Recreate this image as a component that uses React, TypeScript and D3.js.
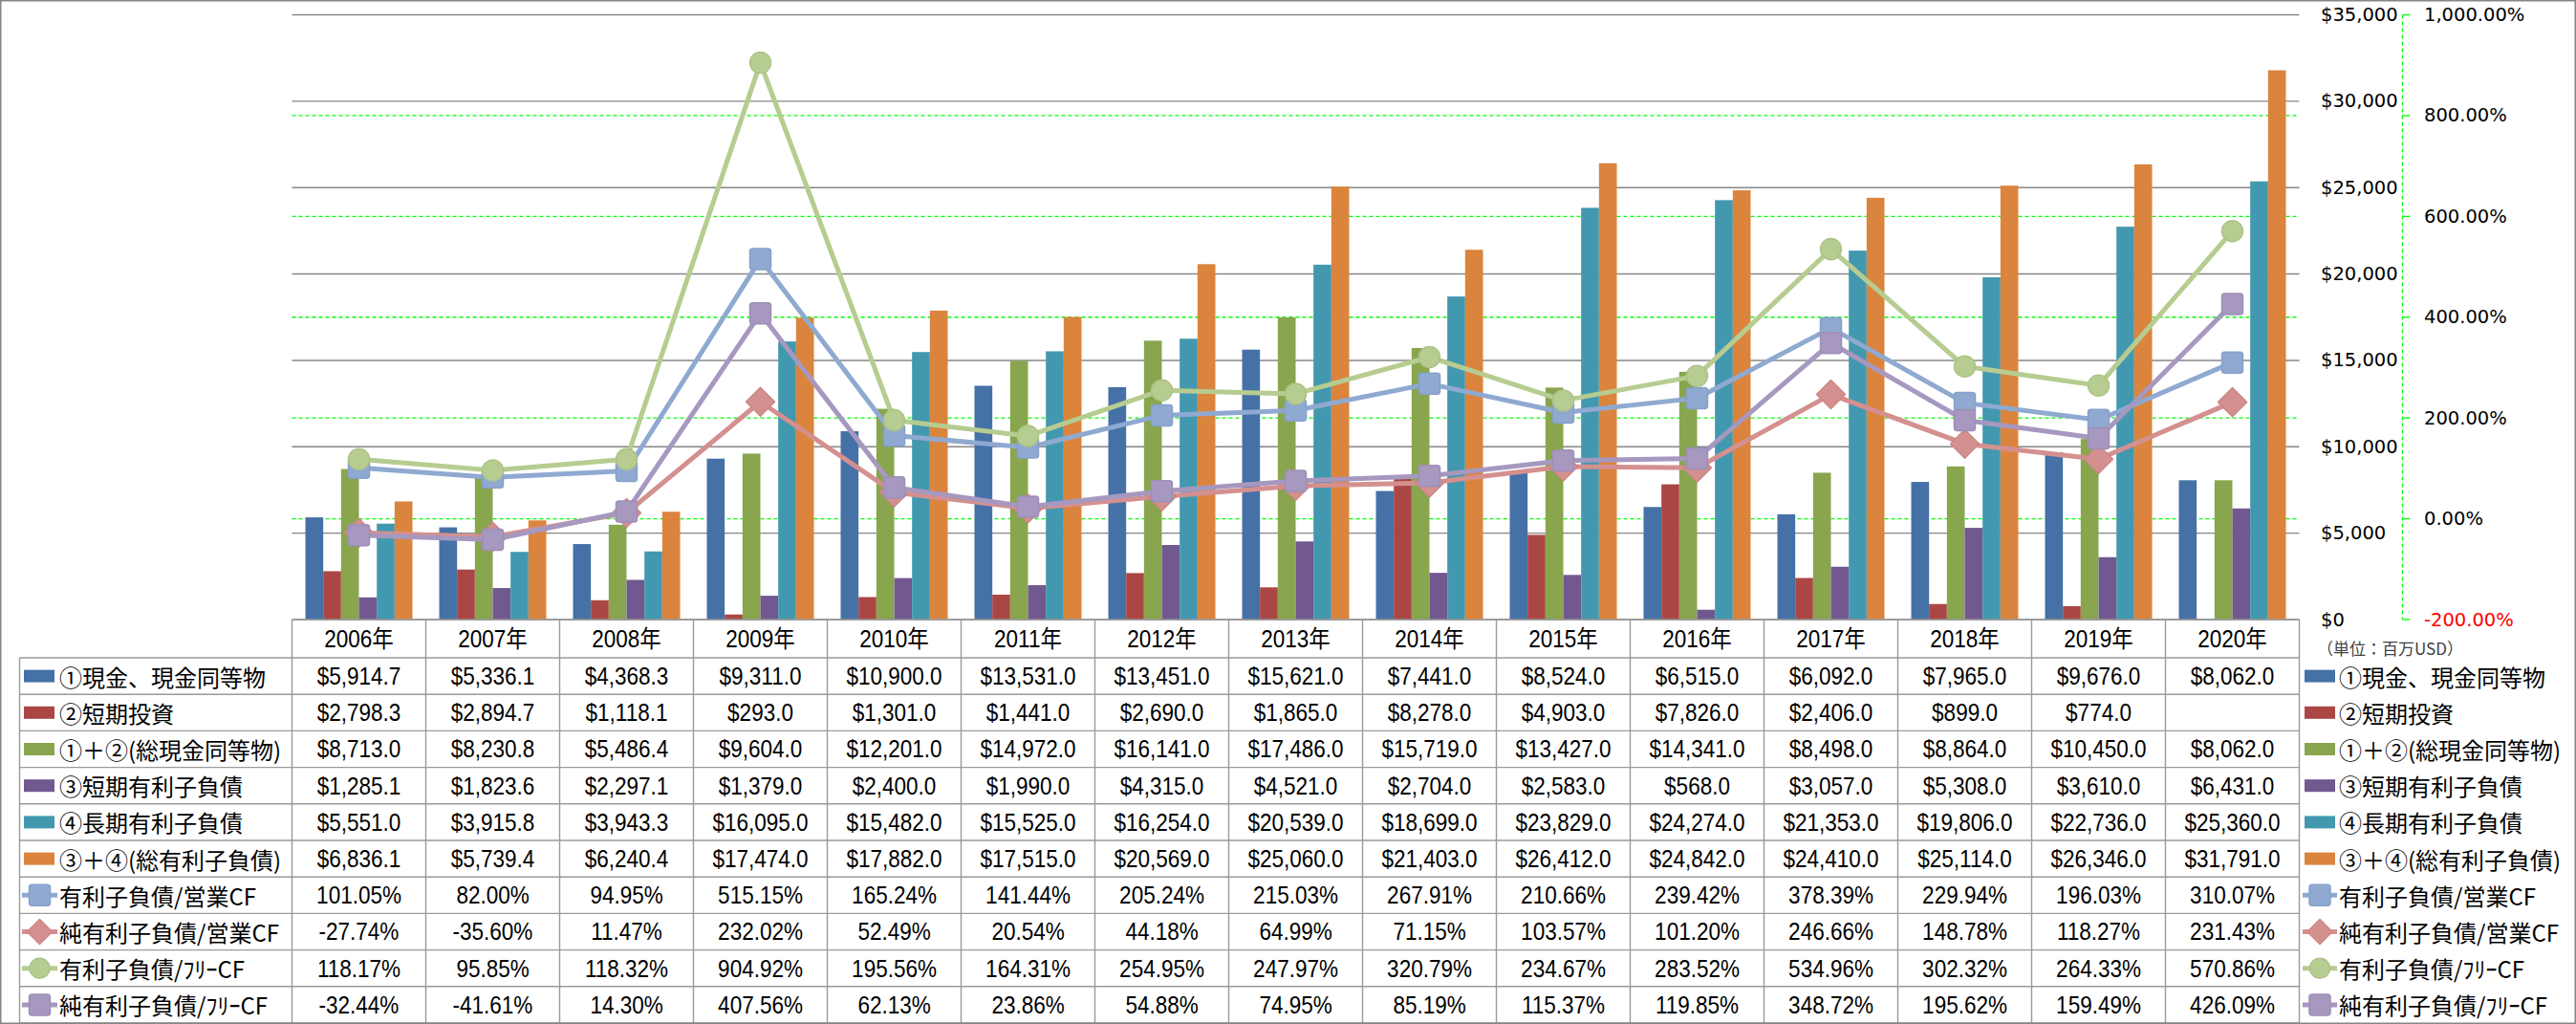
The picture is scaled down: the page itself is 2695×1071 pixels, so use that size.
import React from 'react';
import * as d3 from 'd3';

const years = ['2006年','2007年','2008年','2009年','2010年','2011年','2012年','2013年','2014年','2015年','2016年','2017年','2018年','2019年','2020年'];

const cash = [5914.7,5336.1,4368.3,9311.0,10900.0,13531.0,13451.0,15621.0,7441.0,8524.0,6515.0,6092.0,7965.0,9676.0,8062.0];
const shortInvest = [2798.3,2894.7,1118.1,293.0,1301.0,1441.0,2690.0,1865.0,8278.0,4903.0,7826.0,2406.0,899.0,774.0,null];
const totalCash = [8713.0,8230.8,5486.4,9604.0,12201.0,14972.0,16141.0,17486.0,15719.0,13427.0,14341.0,8498.0,8864.0,10450.0,8062.0];
const shortDebt = [1285.1,1823.6,2297.1,1379.0,2400.0,1990.0,4315.0,4521.0,2704.0,2583.0,568.0,3057.0,5308.0,3610.0,6431.0];
const longDebt = [5551.0,3915.8,3943.3,16095.0,15482.0,15525.0,16254.0,20539.0,18699.0,23829.0,24274.0,21353.0,19806.0,22736.0,25360.0];
const totalDebt = [6836.1,5739.4,6240.4,17474.0,17882.0,17515.0,20569.0,25060.0,21403.0,26412.0,24842.0,24410.0,25114.0,26346.0,31791.0];

const debtOpCF = [101.05,82.00,94.95,515.15,165.24,141.44,205.24,215.03,267.91,210.66,239.42,378.39,229.94,196.03,310.07];
const netDebtOpCF = [-27.74,-35.60,11.47,232.02,52.49,20.54,44.18,64.99,71.15,103.57,101.20,246.66,148.78,118.27,231.43];
const debtFreeCF = [118.17,95.85,118.32,904.92,195.56,164.31,254.95,247.97,320.79,234.67,283.52,534.96,302.32,264.33,570.86];
const netDebtFreeCF = [-32.44,-41.61,14.30,407.56,62.13,23.86,54.88,74.95,85.19,115.37,119.85,348.72,195.62,159.49,426.09];

const barNames = ['①現金、現金同等物','②短期投資','①＋②(総現金同等物)','③短期有利子負債','④長期有利子負債','③＋④(総有利子負債)'];
const lineNames = ['有利子負債/営業CF','純有利子負債/営業CF','有利子負債/ﾌﾘｰCF','純有利子負債/ﾌﾘｰCF'];
const unitLabel = '（単位：百万USD）';

const dollarTicks = [0,5000,10000,15000,20000,25000,30000,35000];
const pctTicks = [-200,0,200,400,600,800,1000];

const barColors = ['#4571A6','#AA4744','#89A54E','#71588F','#4298AF','#DB843D'];
const lineColors = ['#8FA9D1','#D4908F','#B6CC91','#A698BF'];
const lineStrokes = ['#86A1CB','#CC8786','#ADC488','#9D8FB8'];
const markerShapes = ['square','diamond','circle','square'];
const legendMarkerScale = [1, 0.87, 0.95, 1];

const barSeries = [cash, shortInvest, totalCash, shortDebt, longDebt, totalDebt];
const lineSeries = [debtOpCF, netDebtOpCF, debtFreeCF, netDebtFreeCF];

const W = 2695, H = 1071;
const plotLeft = 305.5, plotRight = 2405.5, plotTop = 15.5, plotBottom = 648;
const headerBottom = 688;
const rowH = 38.2;
const tableLeft = 20.5;

const locale = d3.formatLocale({ decimal: '.', thousands: ',', grouping: [3], currency: ['$', ''], minus: '-' });
const fmtMoney = locale.format('$,.1f');
const fmtAxisMoney = locale.format('$,');
const fmtPct = (v: number) => locale.format(',.2f')(v) + '%';

const tableFont = '"Liberation Sans", "Noto Sans CJK JP", sans-serif';
const labelFont = '"Noto Sans CJK JP", sans-serif';
const axisFont = '"DejaVu Sans", "Noto Sans CJK JP", sans-serif';

function Marker({ shape, x, y, fill, stroke, s = 1 }: any) {
  if (shape === 'circle') return <circle cx={x} cy={y} r={11 * s} fill={fill} stroke={stroke} strokeWidth={1.5} />;
  if (shape === 'diamond') {
    const r = 15 * s;
    return <path d={`M${x},${y - r}L${x + r},${y}L${x},${y + r}L${x - r},${y}Z`} fill={fill} stroke={stroke} strokeWidth={1.5} strokeLinejoin="round" />;
  }
  const h = 11 * s;
  return <rect x={x - h} y={y - h} width={2 * h} height={2 * h} rx={3} fill={fill} stroke={stroke} strokeWidth={1.5} />;
}

export default function App() {
  const x0 = d3.scaleBand<string>().domain(years).range([plotLeft, plotRight]).paddingInner(0).paddingOuter(0);
  const x1 = d3.scaleBand<number>().domain(d3.range(6)).range([0, x0.bandwidth()]).paddingInner(0).paddingOuter(0.75);
  const yL = d3.scaleLinear().domain([0, 35000]).range([plotBottom, plotTop]);
  const yR = d3.scaleLinear().domain([-200, 1000]).range([plotBottom, plotTop]);
  const cx = (i: number) => (x0(years[i]) as number) + x0.bandwidth() / 2;

  const rowCenter = (r: number) => headerBottom + rowH * r + rowH / 2;
  const rowLines = d3.range(11).map(r => headerBottom + rowH * r);

  const tableRows: string[][] = [
    ...barSeries.map(s => s.map(v => (v == null ? '' : fmtMoney(v as number)))),
    ...lineSeries.map(s => s.map(v => fmtPct(v))),
  ];

  const axisX = 2513.5;

  return (
    <svg width={W} height={H} style={{ position: 'absolute', left: 0, top: 0, background: '#fff' }} xmlns="http://www.w3.org/2000/svg">
      <rect x={0} y={0} width={W} height={H} fill="#fff" />
      {dollarTicks.map(t => (
        <line key={'g' + t} x1={plotLeft} x2={plotRight} y1={yL(t)} y2={yL(t)} stroke="#868686" strokeWidth={1.4} />
      ))}
      {pctTicks.filter(t => t > -200 && t < 1000).map(t => (
        <line key={'p' + t} x1={plotLeft} x2={plotRight} y1={yR(t)} y2={yR(t)} stroke="#00FF00" strokeWidth={1.3} strokeDasharray="4,3" />
      ))}
      {barSeries.map((s, k) => (
        <g key={'bs' + k} fill={barColors[k]}>
          {s.map((v, i) => v == null ? null : (
            <rect key={i} x={(x0(years[i]) as number) + (x1(k) as number)} width={x1.bandwidth()} y={yL(v as number)} height={yL(0) - yL(v as number)} />
          ))}
        </g>
      ))}
      {lineSeries.map((s, k) => {
        const line = d3.line<number>().x((_, i) => cx(i)).y(v => yR(v));
        return (
          <g key={'ls' + k}>
            <path d={line(s) as string} fill="none" stroke={lineColors[k]} strokeWidth={5} strokeLinejoin="round" />
            {s.map((v, i) => (
              <Marker key={i} shape={markerShapes[k]} x={cx(i)} y={yR(v)} fill={lineColors[k]} stroke={lineStrokes[k]} />
            ))}
          </g>
        );
      })}
      {dollarTicks.map(t => (
        <text key={'dl' + t} x={2428} y={yL(t)} dominantBaseline="central" fontFamily={axisFont} fontSize={19.5} fill="#000">{fmtAxisMoney(t)}</text>
      ))}
      <line x1={axisX} x2={axisX} y1={plotTop} y2={plotBottom} stroke="#00FF00" strokeWidth={1.3} strokeDasharray="4,3" />
      {pctTicks.map(t => (
        <line key={'pt' + t} x1={axisX} x2={axisX + 8} y1={yR(t)} y2={yR(t)} stroke="#00FF00" strokeWidth={1.3} />
      ))}
      {pctTicks.map(t => (
        <text key={'pl' + t} x={2536} y={yR(t)} dominantBaseline="central" fontFamily={axisFont} fontSize={19.5} fill={t < 0 ? '#FF0000' : '#000'}>{fmtPct(t)}</text>
      ))}
      <text x={2424} y={677} dominantBaseline="central" fontFamily={labelFont} fontSize={17} fill="#404040">{unitLabel}</text>

      <g stroke="#9A9A9A" strokeWidth={1.4}>
        <line x1={plotLeft} x2={plotRight} y1={plotBottom} y2={plotBottom} />
        {rowLines.map((y, r) => (
          <line key={'rl' + r} x1={tableLeft} x2={plotRight} y1={y} y2={y} />
        ))}
        <line x1={tableLeft} x2={tableLeft} y1={headerBottom} y2={rowLines[10]} />
        {years.map((yr, i) => (
          <line key={'vl' + i} x1={x0(yr) as number} x2={x0(yr) as number} y1={plotBottom} y2={rowLines[10]} />
        ))}
        <line x1={plotRight} x2={plotRight} y1={plotBottom} y2={rowLines[10]} />
      </g>
      {years.map((yr, i) => (
        <text key={'yr' + i} transform={`translate(${cx(i)},${(plotBottom + headerBottom) / 2}) scale(0.9,1)`} textAnchor="middle" dominantBaseline="central" fontFamily={tableFont} fontSize={25} fill="#000">{yr}</text>
      ))}
      {tableRows.map((row, r) => row.map((txt, i) => (
        <text key={`c${r}-${i}`} transform={`translate(${cx(i)},${rowCenter(r)}) scale(0.9,1)`} textAnchor="middle" dominantBaseline="central" fontFamily={tableFont} fontSize={25} fill="#000">{txt}</text>
      )))}
      {barNames.map((n, k) => (
        <g key={'tb' + k}>
          <rect x={25} y={rowCenter(k) - 6.5} width={32} height={13} fill={barColors[k]} />
          <text x={62} y={rowCenter(k)} dominantBaseline="central" fontFamily={labelFont} fontSize={24} fill="#000">{n}</text>
        </g>
      ))}
      {lineNames.map((n, k) => (
        <g key={'tl' + k}>
          <line x1={23} x2={60} y1={rowCenter(6 + k)} y2={rowCenter(6 + k)} stroke={lineColors[k]} strokeWidth={5} />
          <Marker shape={markerShapes[k]} x={41.5} y={rowCenter(6 + k)} fill={lineColors[k]} stroke={lineStrokes[k]} s={legendMarkerScale[k]} />
          <text x={62} y={rowCenter(6 + k)} dominantBaseline="central" fontFamily={labelFont} fontSize={24} fill="#000">{n}</text>
        </g>
      ))}
      {barNames.map((n, k) => (
        <g key={'rb' + k}>
          <rect x={2411} y={rowCenter(k) - 6.5} width={32} height={13} fill={barColors[k]} />
          <text x={2447} y={rowCenter(k)} dominantBaseline="central" fontFamily={labelFont} fontSize={24} fill="#000">{n}</text>
        </g>
      ))}
      {lineNames.map((n, k) => (
        <g key={'rlg' + k}>
          <line x1={2409} x2={2445} y1={rowCenter(6 + k)} y2={rowCenter(6 + k)} stroke={lineColors[k]} strokeWidth={5} />
          <Marker shape={markerShapes[k]} x={2427} y={rowCenter(6 + k)} fill={lineColors[k]} stroke={lineStrokes[k]} s={legendMarkerScale[k]} />
          <text x={2447} y={rowCenter(6 + k)} dominantBaseline="central" fontFamily={labelFont} fontSize={24} fill="#000">{n}</text>
        </g>
      ))}
      <rect x={0.75} y={0.75} width={W - 1.5} height={H - 1.5} fill="none" stroke="#868686" strokeWidth={1.5} />
    </svg>
  );
}
